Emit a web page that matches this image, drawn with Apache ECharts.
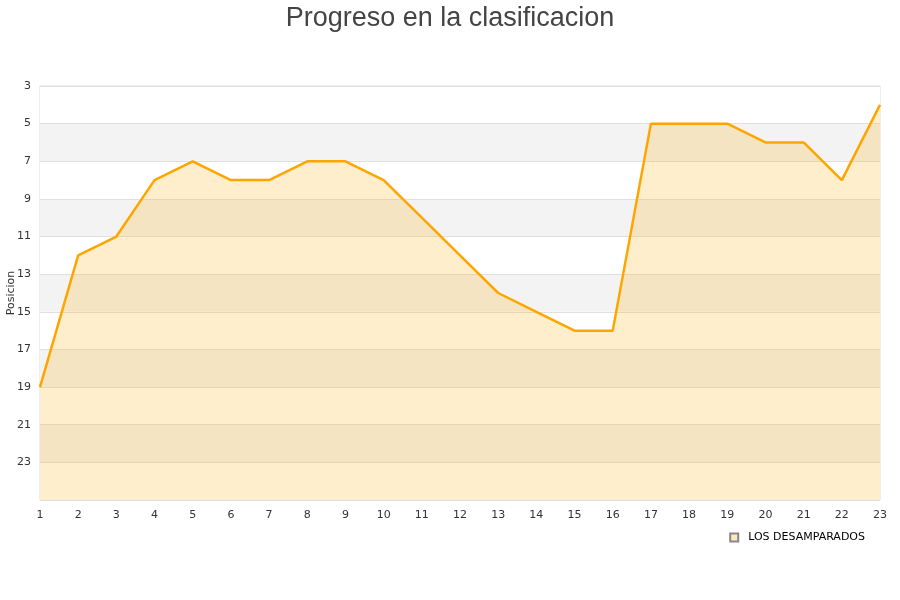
<!DOCTYPE html>
<html><head><meta charset="utf-8">
<script src="https://cdn.jsdelivr.net/npm/echarts@6/dist/echarts.min.js"></script>
<style>html,body{margin:0;padding:0;background:#fff}#c{width:900px;height:600px}</style>
</head><body><div id="c"></div>
<script>
const jornadas = ['1','2','3','4','5','6','7','8','9','10','11','12','13','14','15','16','17','18','19','20','21','22','23'];
const posiciones = [19,12,11,8,7,8,8,7,7,8,10,12,14,15,16,16,5,5,5,6,6,8,4];
const equipo = 'LOS DESAMPARADOS';
const chart = echarts.init(document.getElementById('c'));
chart.setOption({
  animation: false,
  title: {text: 'Progreso en la clasificacion', left: 'center', top: 0,
    textStyle: {fontFamily: 'Liberation Sans', fontSize: 27, fontWeight: 'normal', color: '#444'}},
  legend: {data: [{name: equipo, icon: 'rect'}], right: 30, top: 527, itemWidth: 8, itemHeight: 8,
    textStyle: {fontFamily: 'DejaVu Sans', fontSize: 11, color: '#000', padding: [0, 0, 0, 5]}},
  grid: {left: 40, right: 20, top: 86, bottom: 100, containLabel: false, outerBoundsMode: 'none',
    show: true, borderColor: '#ddd', borderWidth: 1},
  xAxis: {type: 'category', data: jornadas, boundaryGap: false,
    axisLine: {show: false}, axisTick: {show: false},
    axisLabel: {fontFamily: 'DejaVu Sans', fontSize: 11, color: '#333', margin: 10},
    splitLine: {show: false}},
  yAxis: {type: 'value', inverse: true, min: 3, max: 25, interval: 2,
    name: 'Posicion', nameLocation: 'middle', nameGap: 23, nameMoveOverlap: false,
    nameTextStyle: {fontFamily: 'DejaVu Sans', fontSize: 11, color: '#333'},
    axisLine: {show: false}, axisTick: {show: false},
    axisLabel: {fontFamily: 'DejaVu Sans', fontSize: 11, color: '#333', margin: 9,
      formatter: v => v === 25 ? '' : String(v)},
    splitLine: {show: true, lineStyle: {color: '#e0e0e0'}},
    splitArea: {show: true, areaStyle: {color: ['#ffffff', '#f3f3f3']}}},
  series: [{name: equipo, type: 'line', data: posiciones, symbol: 'none',
    lineStyle: {color: '#ffa500', width: 2.5},
    itemStyle: {color: '#ffe8c0', borderColor: '#888', borderWidth: 1},
    areaStyle: {color: 'rgba(255,170,0,0.2)', opacity: 1, origin: 'end'}}]
});
</script></body></html>
